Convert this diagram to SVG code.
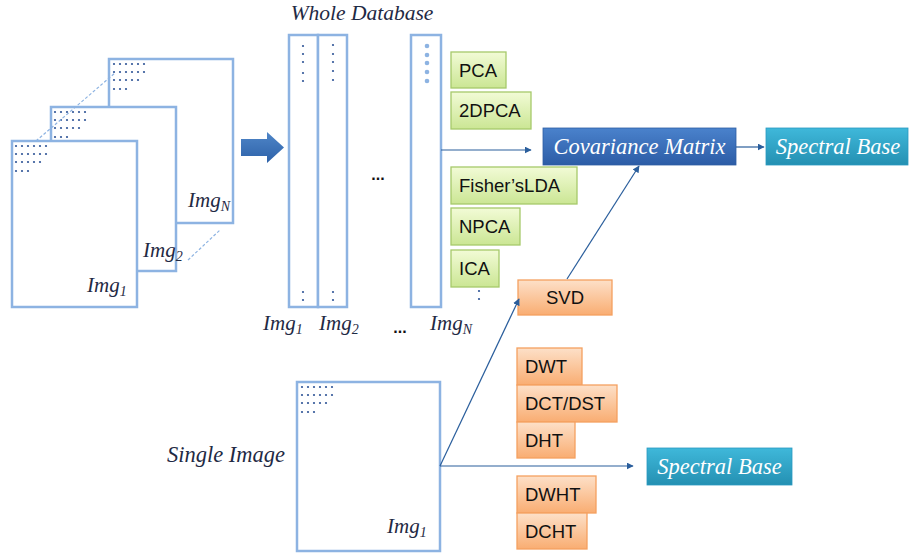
<svg xmlns="http://www.w3.org/2000/svg" width="910" height="556" viewBox="0 0 910 556">
<defs>
<linearGradient id="gGreen" x1="0" y1="0" x2="0" y2="1"><stop offset="0" stop-color="#f2fbd6"/><stop offset="1" stop-color="#cbe694"/></linearGradient>
<linearGradient id="gOrange" x1="0" y1="0" x2="0" y2="1"><stop offset="0" stop-color="#fde0c8"/><stop offset="1" stop-color="#f9ad72"/></linearGradient>
<linearGradient id="gBlue" x1="0" y1="0" x2="0" y2="1"><stop offset="0" stop-color="#4a82cc"/><stop offset="1" stop-color="#2c5ca6"/></linearGradient>
<linearGradient id="gTeal" x1="0" y1="0" x2="0" y2="1"><stop offset="0" stop-color="#3fb8da"/><stop offset="1" stop-color="#2490b2"/></linearGradient>
<linearGradient id="gArrow" x1="0" y1="0" x2="0" y2="1"><stop offset="0" stop-color="#4f86c8"/><stop offset="1" stop-color="#2d61a8"/></linearGradient>
<marker id="ah" viewBox="0 0 10 10" refX="9" refY="5" markerWidth="7" markerHeight="7" orient="auto" markerUnits="userSpaceOnUse"><path d="M0,0 L10,5 L0,10 z" fill="#2a5e9c"/></marker>
<g id="dots6">
<g fill="#2f5597">
<circle cx="0" cy="0" r="1.1"/><circle cx="6" cy="0" r="1.1"/><circle cx="12" cy="0" r="1.1"/><circle cx="18" cy="0" r="1.1"/><circle cx="24" cy="0" r="1.1"/><circle cx="30" cy="0" r="1.1"/>
<circle cx="0" cy="8" r="1.1"/><circle cx="6" cy="8" r="1.1"/><circle cx="12" cy="8" r="1.1"/><circle cx="18" cy="8" r="1.1"/><circle cx="24" cy="8" r="1.1"/><circle cx="30" cy="8" r="1.1"/>
<circle cx="0" cy="16" r="1.1"/><circle cx="6" cy="16" r="1.1"/><circle cx="12" cy="16" r="1.1"/><circle cx="18" cy="16" r="1.1"/><circle cx="24" cy="16" r="1.1"/>
<circle cx="0" cy="25" r="1.1"/><circle cx="6" cy="25" r="1.1"/><circle cx="12" cy="25" r="1.1"/>
</g>
</g>
</defs>
<style>
.img{fill:#fff;stroke:#8db3e2;stroke-width:2.5}
.col{fill:#fff;stroke:#8db3e2;stroke-width:2.5}
.it{font-family:"Liberation Serif",serif;font-style:italic;fill:#1f2a44}
.lbl{font-family:"Liberation Serif",serif;font-style:italic;font-size:21px;fill:#1f2a44}
.box{font-family:"Liberation Sans",Arial,sans-serif;font-size:18.5px;fill:#111}
.g{fill:url(#gGreen);stroke:#a6c96a;stroke-width:1.3}
.o{fill:url(#gOrange);stroke:#f4a060;stroke-width:1.3}
.w{font-family:"Liberation Serif",serif;font-style:italic;font-size:22.5px;fill:#fff}
.cn{fill:none;stroke:#2a5e9c;stroke-width:1.2}
.dash{fill:none;stroke:#8db3e2;stroke-width:1.2;stroke-dasharray:3 2}
.dot{fill:#2f5597}
</style>

<g id="stack">
<rect class="img" x="109" y="59" width="124" height="164"/>
<use href="#dots6" x="114" y="64"/>
<text class="lbl" x="188" y="207">Img<tspan font-size="14" dy="4">N</tspan></text>
<rect class="img" x="51" y="107" width="125" height="164"/>
<use href="#dots6" x="55" y="112"/>
<text class="lbl" x="143" y="257">Img<tspan font-size="14" dy="4">2</tspan></text>
<rect class="img" x="12" y="141" width="125" height="166"/>
<use href="#dots6" x="16" y="146"/>
<text class="lbl" x="87" y="292">Img<tspan font-size="14" dy="4">1</tspan></text>
<path class="dash" d="M36,141 L115,73"/>
<path class="dash" d="M188,260 L220,230"/>
</g>

<g id="bigArrow">
<path d="M241,139 L267,139 L267,132 L284,147.5 L267,163 L267,156 L241,156 z" fill="url(#gArrow)"/>
</g>

<g id="database">
<text class="it" x="362" y="20" font-size="21.5" text-anchor="middle">Whole Database</text>
<rect class="col" x="289" y="35" width="29" height="272"/>
<rect class="col" x="318" y="35" width="29" height="272"/>
<rect class="col" x="411" y="35" width="30" height="272"/>
<g class="dot">
<circle cx="303" cy="46" r="1.1"/><circle cx="303" cy="54" r="1.1"/><circle cx="303" cy="62" r="1.1"/><circle cx="303" cy="73" r="1.1"/><circle cx="303" cy="81" r="1.1"/>
<circle cx="303" cy="292" r="1.1"/><circle cx="303" cy="300" r="1.1"/>
<circle cx="333" cy="45" r="1.1"/><circle cx="333" cy="54" r="1.1"/><circle cx="333" cy="62" r="1.1"/><circle cx="333" cy="71" r="1.1"/><circle cx="333" cy="80" r="1.1"/>
<circle cx="333" cy="292" r="1.1"/><circle cx="333" cy="300" r="1.1"/>
</g>
<g fill="#8db3e2">
<circle cx="427" cy="46" r="2.3"/><circle cx="427" cy="55" r="2.3"/><circle cx="427" cy="63" r="2.3"/><circle cx="427" cy="72" r="2.3"/><circle cx="427" cy="81" r="2.3"/>
</g>
<text x="378" y="180" font-family="Liberation Sans,sans-serif" font-size="16" font-weight="bold" fill="#111" text-anchor="middle">...</text>
<text class="lbl" x="263" y="330">Img<tspan font-size="14" dy="4">1</tspan></text>
<text class="lbl" x="319" y="330">Img<tspan font-size="14" dy="4">2</tspan></text>
<text x="400" y="333" font-family="Liberation Sans,sans-serif" font-size="16" font-weight="bold" fill="#111" text-anchor="middle">...</text>
<text class="lbl" x="430" y="330">Img<tspan font-size="14" dy="4">N</tspan></text>
</g>

<g id="pca"><rect class="g" x="451" y="52" width="55" height="36"/><text class="box" x="459" y="77">PCA</text></g>
<g id="twodpca"><rect class="g" x="451" y="92" width="80" height="37"/><text class="box" x="459" y="117">2DPCA</text></g>
<g id="fisher"><rect class="g" x="451" y="167" width="126" height="37"/><text class="box" x="459" y="192">Fisher’sLDA</text></g>
<g id="npca"><rect class="g" x="451" y="208" width="69" height="37"/><text class="box" x="459" y="233">NPCA</text></g>
<g id="ica"><rect class="g" x="451" y="250" width="48" height="37"/><text class="box" x="459" y="275">ICA</text></g>
<g class="dot"><circle cx="479" cy="291" r="1.1"/><circle cx="479" cy="299" r="1.1"/></g>

<g id="cov"><rect x="543" y="128" width="193" height="37" fill="url(#gBlue)" stroke="#2f5ea4" stroke-width="0.8"/><text class="w" x="639.5" y="154" text-anchor="middle">Covariance Matrix</text></g>
<g id="spec1"><rect x="766" y="128" width="142" height="37" fill="url(#gTeal)" stroke="#2a9ac0" stroke-width="0.8"/><text class="w" x="838" y="154" text-anchor="middle">Spectral Base</text></g>

<g id="svd"><rect class="o" x="518" y="280" width="94" height="35"/><text class="box" x="565" y="304" text-anchor="middle">SVD</text></g>

<g id="single">
<text class="it" x="167" y="462" font-size="22.5">Single Image</text>
<rect class="img" x="297" y="382" width="143" height="169"/>
<use href="#dots6" x="302" y="387"/>
<text class="lbl" x="387" y="533">Img<tspan font-size="14" dy="4">1</tspan></text>
</g>

<g id="dwt"><rect class="o" x="517" y="348" width="65" height="37"/><text class="box" x="525" y="373">DWT</text></g>
<g id="dct"><rect class="o" x="517" y="385" width="100" height="37"/><text class="box" x="525" y="410">DCT/DST</text></g>
<g id="dht"><rect class="o" x="517" y="422" width="58" height="36"/><text class="box" x="525" y="447">DHT</text></g>
<g id="dwht"><rect class="o" x="517" y="476" width="79" height="37"/><text class="box" x="525" y="501">DWHT</text></g>
<g id="dcht"><rect class="o" x="517" y="513" width="70" height="36"/><text class="box" x="525" y="538">DCHT</text></g>

<g id="spec2"><rect x="647" y="448" width="145" height="37" fill="url(#gTeal)" stroke="#2a9ac0" stroke-width="0.8"/><text class="w" x="719.5" y="474" text-anchor="middle">Spectral Base</text></g>

<g id="connectors">
<path class="cn" d="M441,150 L531,150" marker-end="url(#ah)"/>
<path class="cn" d="M736,147 L764,147" marker-end="url(#ah)"/>
<path class="cn" d="M567,279 L639,166" marker-end="url(#ah)"/>
<path class="cn" d="M440,466 L519,299" marker-end="url(#ah)"/>
<path class="cn" d="M440,466 L633,466" marker-end="url(#ah)"/>
</g>
</svg>
